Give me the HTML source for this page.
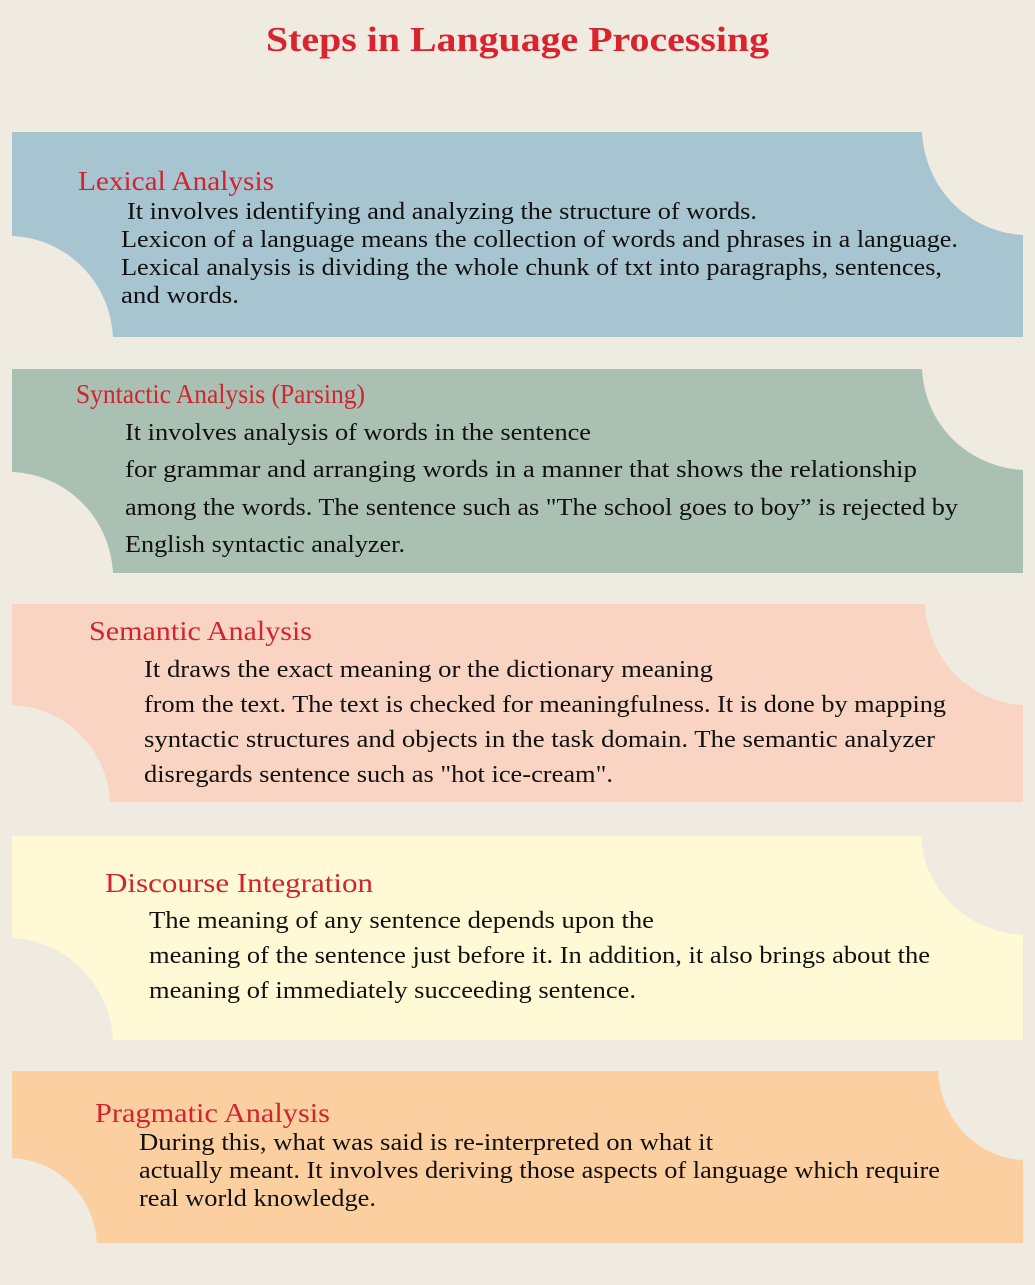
<!DOCTYPE html>
<html><head><meta charset="utf-8"><style>
html,body{margin:0;padding:0;background:#f0ebe0;}
svg{display:block}
text{font-family:"Liberation Serif",serif;}
.h{fill:#d2232e;font-size:27px}
.b{fill:#111;font-size:24px}
</style></head><body>
<svg width="1035" height="1285" viewBox="0 0 1035 1285" xmlns="http://www.w3.org/2000/svg">
<rect width="1035" height="1285" fill="#f0ebe0"/>
<text x="266" y="51" font-size="35" font-weight="bold" fill="#d9232e" textLength="503" lengthAdjust="spacingAndGlyphs">Steps in Language Processing</text>

<!-- Box 1 -->
<path d="M12 132 H922 C925 190 970 232 1023 235 V337 H113 C110 280 65 238 12 236 Z" fill="#a7c4d1"/>
<text class="h" x="78" y="190" textLength="196" lengthAdjust="spacingAndGlyphs">Lexical Analysis</text>
<text class="b" x="127" y="219" textLength="630" lengthAdjust="spacingAndGlyphs">It involves identifying and analyzing the structure of words.</text>
<text class="b" x="121" y="247" textLength="837" lengthAdjust="spacingAndGlyphs">Lexicon of a language means the collection of words and phrases in a language.</text>
<text class="b" x="121" y="275" textLength="821" lengthAdjust="spacingAndGlyphs">Lexical analysis is dividing the whole chunk of txt into paragraphs, sentences,</text>
<text class="b" x="121" y="303" textLength="118" lengthAdjust="spacingAndGlyphs">and words.</text>

<!-- Box 2 -->
<path d="M12 369 H922 C925 427 970 467 1023 470 V573 H113 C110 516 65 474 12 472 Z" fill="#a9c0b2"/>
<text class="h" x="76" y="403" textLength="289" lengthAdjust="spacingAndGlyphs">Syntactic Analysis (Parsing)</text>
<text class="b" x="125" y="440" font-size="28" textLength="466" lengthAdjust="spacingAndGlyphs">It involves analysis of words in the sentence</text>
<text class="b" x="125" y="477" font-size="28" textLength="792" lengthAdjust="spacingAndGlyphs">for grammar and arranging words in a manner that shows the relationship</text>
<text class="b" x="125" y="515" font-size="28" textLength="833" lengthAdjust="spacingAndGlyphs">among the words. The sentence such as "The school goes to boy” is rejected by</text>
<text class="b" x="125" y="552" font-size="28" textLength="280" lengthAdjust="spacingAndGlyphs">English syntactic analyzer.</text>

<!-- Box 3 -->
<path d="M12 604 H925 C928 662 972 702 1023 705 V802 H110 C107 746 63 707 12 705 Z" fill="#f9d4c2"/>
<text class="h" x="89" y="640" textLength="223" lengthAdjust="spacingAndGlyphs">Semantic Analysis</text>
<text class="b" x="144" y="677" textLength="569" lengthAdjust="spacingAndGlyphs">It draws the exact meaning or the dictionary meaning</text>
<text class="b" x="144" y="712" textLength="802" lengthAdjust="spacingAndGlyphs">from the text. The text is checked for meaningfulness. It is done by mapping</text>
<text class="b" x="144" y="747" textLength="791" lengthAdjust="spacingAndGlyphs">syntactic structures and objects in the task domain. The semantic analyzer</text>
<text class="b" x="144" y="782" textLength="469" lengthAdjust="spacingAndGlyphs">disregards sentence such as "hot ice-cream".</text>

<!-- Box 4 -->
<path d="M12 836 H921 C924 893 970 932 1023 935 V1040 H113 C110 983 65 940 12 938 Z" fill="#fffad5"/>
<text class="h" x="105" y="892" textLength="268" lengthAdjust="spacingAndGlyphs">Discourse Integration</text>
<text class="b" x="149" y="928" textLength="505" lengthAdjust="spacingAndGlyphs">The meaning of any sentence depends upon the</text>
<text class="b" x="149" y="963" textLength="781" lengthAdjust="spacingAndGlyphs">meaning of the sentence just before it. In addition, it also brings about the</text>
<text class="b" x="149" y="998" textLength="487" lengthAdjust="spacingAndGlyphs">meaning of immediately succeeding sentence.</text>

<!-- Box 5 -->
<path d="M12 1071 H938 C941 1121 978 1158 1023 1160 V1243 H97 C94 1195 57 1160 12 1158 Z" fill="#fccfa0"/>
<text class="h" x="95" y="1122" textLength="235" lengthAdjust="spacingAndGlyphs">Pragmatic Analysis</text>
<text class="b" x="139" y="1150" textLength="574" lengthAdjust="spacingAndGlyphs">During this, what was said is re-interpreted on what it</text>
<text class="b" x="139" y="1178" textLength="801" lengthAdjust="spacingAndGlyphs">actually meant. It involves deriving those aspects of language which require</text>
<text class="b" x="139" y="1206" textLength="237" lengthAdjust="spacingAndGlyphs">real world knowledge.</text>
</svg>
</body></html>
